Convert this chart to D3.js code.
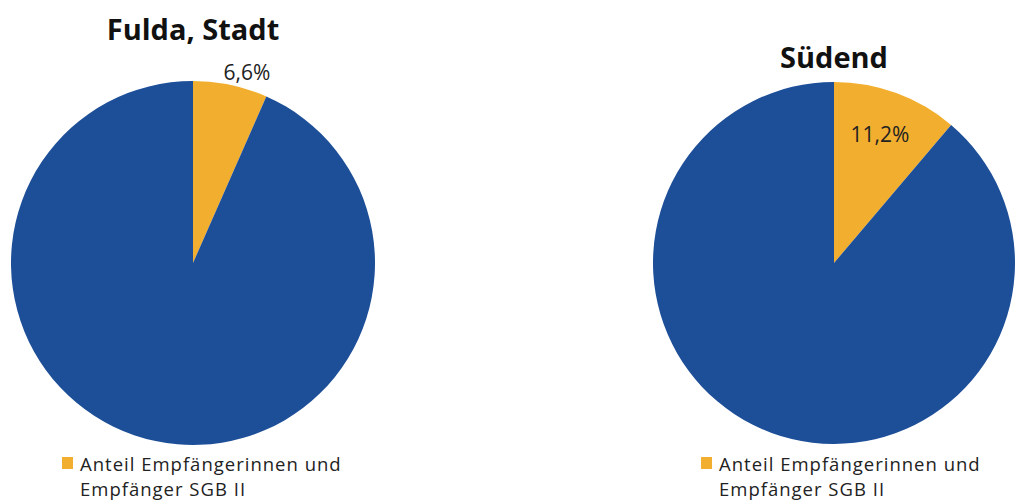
<!DOCTYPE html>
<html><head><meta charset="utf-8">
<script src="https://cdn.jsdelivr.net/npm/d3@7"></script>
<style>body{margin:0;background:#fff}svg{display:block}text{font-family:"Open Sans",sans-serif}</style>
</head><body>
<svg id="c" width="1019" height="502"></svg>
<script>
const titles = ["Fulda, Stadt", "Südend"];
const shareValues = [6.6, 11.2];
const shareLabels = ["6,6%", "11,2%"];
const legendLines = ["Anteil Empfängerinnen und", "Empfänger SGB II"];
const colors = ["#f2ae2e", "#1d4e98"];

const svg = d3.select("#c");
const layouts = [
  {cx:193, cy:263, r:182, titleY:40, labelX:247, labelY:80, legendX:62},
  {cx:834, cy:263, r:181, titleY:68, labelX:880, labelY:142, legendX:701}
];
const pie = d3.pie().sort(null).value(d=>d);
titles.forEach((t,i)=>{
  const L = layouts[i];
  const g = svg.append("g").attr("transform",`translate(${L.cx},${L.cy})`);
  const arcs = pie([shareValues[i], 100-shareValues[i]]);
  const arc = d3.arc().innerRadius(0).outerRadius(L.r);
  g.selectAll("path").data(arcs).join("path").attr("d",arc).attr("fill",(d,j)=>colors[j]);
  svg.append("text").attr("x",L.labelX).attr("y",L.labelY).attr("text-anchor","middle")
    .attr("font-size",21).attr("fill","#222").text(shareLabels[i]);
  svg.append("text").attr("x",L.cx).attr("y",L.titleY).attr("text-anchor","middle")
    .attr("font-size",29).attr("font-weight","bold").attr("fill","#111").text(t);
  svg.append("rect").attr("x",L.legendX).attr("y",457).attr("width",11).attr("height",12).attr("fill",colors[0]);
  legendLines.forEach((ln,k)=>{
    svg.append("text").attr("x",L.legendX+18).attr("y",471+k*25).attr("font-size",18.5)
      .attr("letter-spacing",1).attr("fill","#222").text(ln);
  });
});
</script>
</body></html>
